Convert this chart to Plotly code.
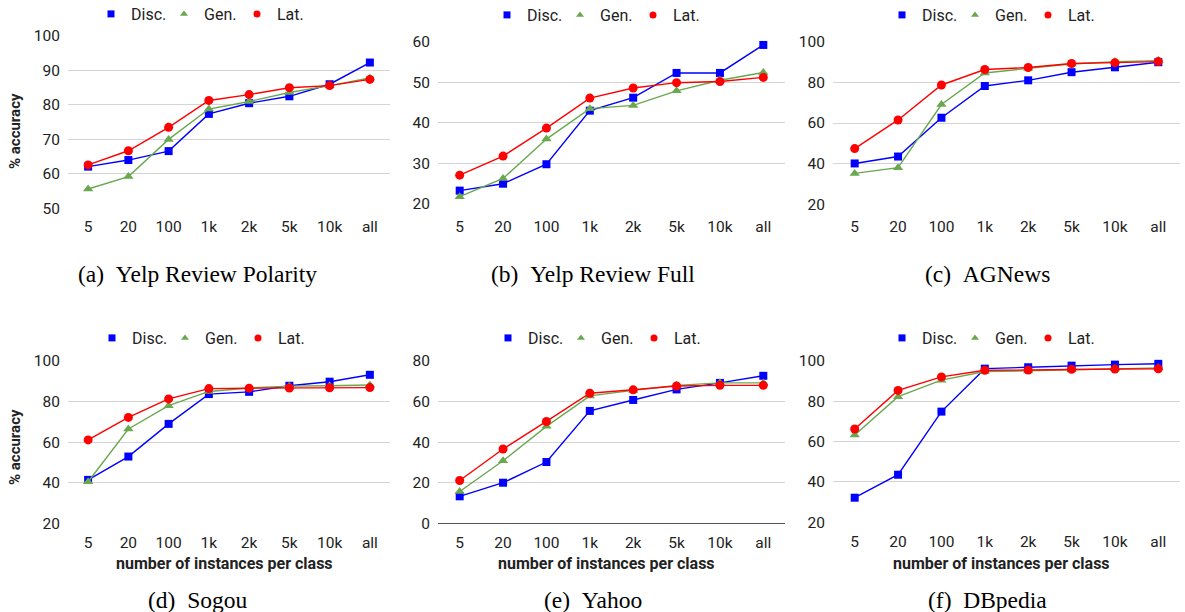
import plotly.graph_objects as go

categories = ["5", "20", "100", "1k", "2k", "5k", "10k", "all"]
series_names = ["Disc.", "Gen.", "Lat."]

yelp_pol_disc = [62.1, 64.0, 66.6, 77.4, 80.5, 82.5, 86.0, 92.3]
yelp_pol_gen = [55.6, 59.2, 70.0, 78.8, 81.0, 83.6, 85.6, 87.8]
yelp_pol_lat = [62.6, 66.7, 73.5, 81.3, 83.0, 85.0, 85.6, 87.4]

yelp_full_disc = [23.3, 25.0, 29.8, 43.0, 46.2, 52.3, 52.3, 59.2]
yelp_full_gen = [21.8, 26.3, 36.0, 43.5, 44.3, 47.9, 50.5, 52.4]
yelp_full_lat = [27.1, 31.8, 38.7, 46.1, 48.6, 49.9, 50.2, 51.2]

agnews_disc = [40.1, 43.5, 62.6, 78.2, 81.0, 85.0, 87.4, 89.9]
agnews_gen = [35.2, 38.0, 69.1, 84.6, 86.9, 89.0, 90.2, 90.7]
agnews_lat = [47.4, 61.5, 78.7, 86.3, 87.3, 89.3, 89.7, 90.2]

sogou_disc = [41.4, 52.9, 69.0, 83.7, 84.8, 87.8, 89.8, 93.2]
sogou_gen = [40.5, 66.5, 78.0, 85.0, 86.7, 87.6, 87.8, 88.2]
sogou_lat = [61.1, 72.2, 81.3, 86.4, 86.6, 86.7, 86.8, 86.9]

yahoo_disc = [13.3, 20.0, 30.2, 55.4, 60.8, 66.0, 69.2, 72.7]
yahoo_gen = [15.7, 30.8, 47.8, 62.8, 65.5, 68.0, 69.2, 69.2]
yahoo_lat = [21.1, 36.6, 50.2, 64.1, 65.8, 67.7, 68.0, 68.0]

dbpedia_disc = [32.2, 43.6, 74.9, 96.2, 96.9, 97.7, 98.2, 98.6]
dbpedia_gen = [63.3, 82.3, 90.5, 94.8, 95.1, 95.6, 96.1, 96.6]
dbpedia_lat = [66.3, 85.4, 92.1, 95.4, 95.5, 95.9, 96.0, 96.1]

captions = ["(a)\u00a0\u00a0Yelp Review Polarity", "(b)\u00a0\u00a0Yelp Review Full",
            "(c)\u00a0\u00a0AGNews", "(d)\u00a0\u00a0Sogou", "(e)\u00a0\u00a0Yahoo",
            "(f)\u00a0\u00a0DBpedia"]
y_ticks = [[50, 60, 70, 80, 90, 100], [20, 30, 40, 50, 60], [20, 40, 60, 80, 100],
           [20, 40, 60, 80, 100], [0, 20, 40, 60, 80], [20, 40, 60, 80, 100]]
y_title = "% accuracy"
x_title = "number of instances per class"

panels = [
    (yelp_pol_disc, yelp_pol_gen, yelp_pol_lat),
    (yelp_full_disc, yelp_full_gen, yelp_full_lat),
    (agnews_disc, agnews_gen, agnews_lat),
    (sogou_disc, sogou_gen, sogou_lat),
    (yahoo_disc, yahoo_gen, yahoo_lat),
    (dbpedia_disc, dbpedia_gen, dbpedia_lat),
]

W, H = 1185, 612
colors = ["#0000ff", "#6aa84f", "#ff0000"]
symbols = ["square", "triangle-up", "circle"]
msizes = [8, 9, 9]
FONT = "Roboto"

# pixel layout (left, right, top, bottom) of plot areas
px_x = [(68, 390), (438, 785), (833, 1180)] * 2
px_y = [(36, 208.3), (41.7, 204), (41.7, 204.3), (361, 523.3), (361, 523.3), (361, 522.3)]
x_ticklen = [4, 8, 8, 5, 5, 5]
cell_cx = [197.5, 592.5, 987.5] * 2
legend_left = [112, 508, 903, 113, 509, 903]
legend_py = [14, 15, 15, 338, 338, 338]
caption_py = [274, 274, 274, 600, 600, 600]

fig = go.Figure()
layout = {}
annotations = []
for i, vals in enumerate(panels):
    n = "" if i == 0 else str(i + 1)
    xa, ya = "x" + n, "y" + n
    leg = "legend" + n
    for s in range(3):
        fig.add_trace(go.Scatter(
            x=categories, y=vals[s], xaxis=xa, yaxis=ya, mode="lines+markers",
            line=dict(color=colors[s], width=1.4),
            marker=dict(symbol=symbols[s], size=msizes[s], color=colors[s]),
            showlegend=False, name=series_names[s], cliponaxis=False))
    for s in range(3):
        fig.add_trace(go.Scatter(
            x=[None], y=[None], xaxis=xa, yaxis=ya, mode="markers",
            marker=dict(symbol=symbols[s], size=7, color=colors[s]),
            name=series_names[s], legend=leg, showlegend=True))
    x0, x1 = px_x[i]
    t, b = px_y[i]
    bottom_row = i >= 3
    layout["xaxis" + n] = dict(
        domain=[x0 / W, x1 / W], anchor=ya, type="category",
        range=[-0.5, len(categories) - 0.5], showgrid=False, showline=False,
        zeroline=False, ticks="outside", ticklen=x_ticklen[i],
        tickcolor="rgba(0,0,0,0)",
        tickfont=dict(family=FONT, size=15.5, color="#222222"))
    yt = y_ticks[i]
    layout["yaxis" + n] = dict(
        domain=[1 - b / H, 1 - t / H], anchor=xa, range=[yt[0], yt[-1]],
        tickvals=yt, showgrid=True, gridcolor="#d4d4d4", gridwidth=1,
        zeroline=(yt[0] == 0), zerolinecolor="#555555", zerolinewidth=1,
        showline=False, ticks="outside", ticklen=4, tickcolor="rgba(0,0,0,0)",
        tickfont=dict(family=FONT, size=15.5, color="#222222"))
    layout[leg] = dict(
        orientation="h", x=(legend_left[i] - 21) / W, xanchor="left",
        y=1 - legend_py[i] / H, yanchor="middle",
        font=dict(family=FONT, size=16, color="#222222"),
        bgcolor="rgba(0,0,0,0)", itemwidth=30,
        entrywidth=28, entrywidthmode="pixels")
    annotations.append(dict(
        text=captions[i], x=cell_cx[i] / W, y=1 - caption_py[i] / H,
        xref="paper", yref="paper", showarrow=False, xanchor="center", yanchor="middle",
        font=dict(family="Liberation Serif", size=23.5, color="#000000")))
    if bottom_row:
        annotations.append(dict(
            text="<b>" + x_title + "</b>", x=((x0 + x1) / 2 - 5) / W, y=1 - 563 / H,
            xref="paper", yref="paper", showarrow=False, xanchor="center", yanchor="middle",
            font=dict(family=FONT, size=16, color="#222222")))
    if i in (0, 3):
        annotations.append(dict(
            text="<b>" + y_title + "</b>", x=15 / W, y=1 - (131 if i == 0 else 447) / H,
            xref="paper", yref="paper", showarrow=False, textangle=-90,
            xanchor="center", yanchor="middle",
            font=dict(family=FONT, size=15, color="#222222")))

fig.update_layout(
    width=W, height=H, margin=dict(l=0, r=0, t=0, b=0, autoexpand=False),
    paper_bgcolor="white", plot_bgcolor="white",
    annotations=annotations, **layout)
fig.write_html("out.html", config={"displayModeBar": False},
               post_script="document.body.style.margin='0';document.body.style.overflow='hidden';")
